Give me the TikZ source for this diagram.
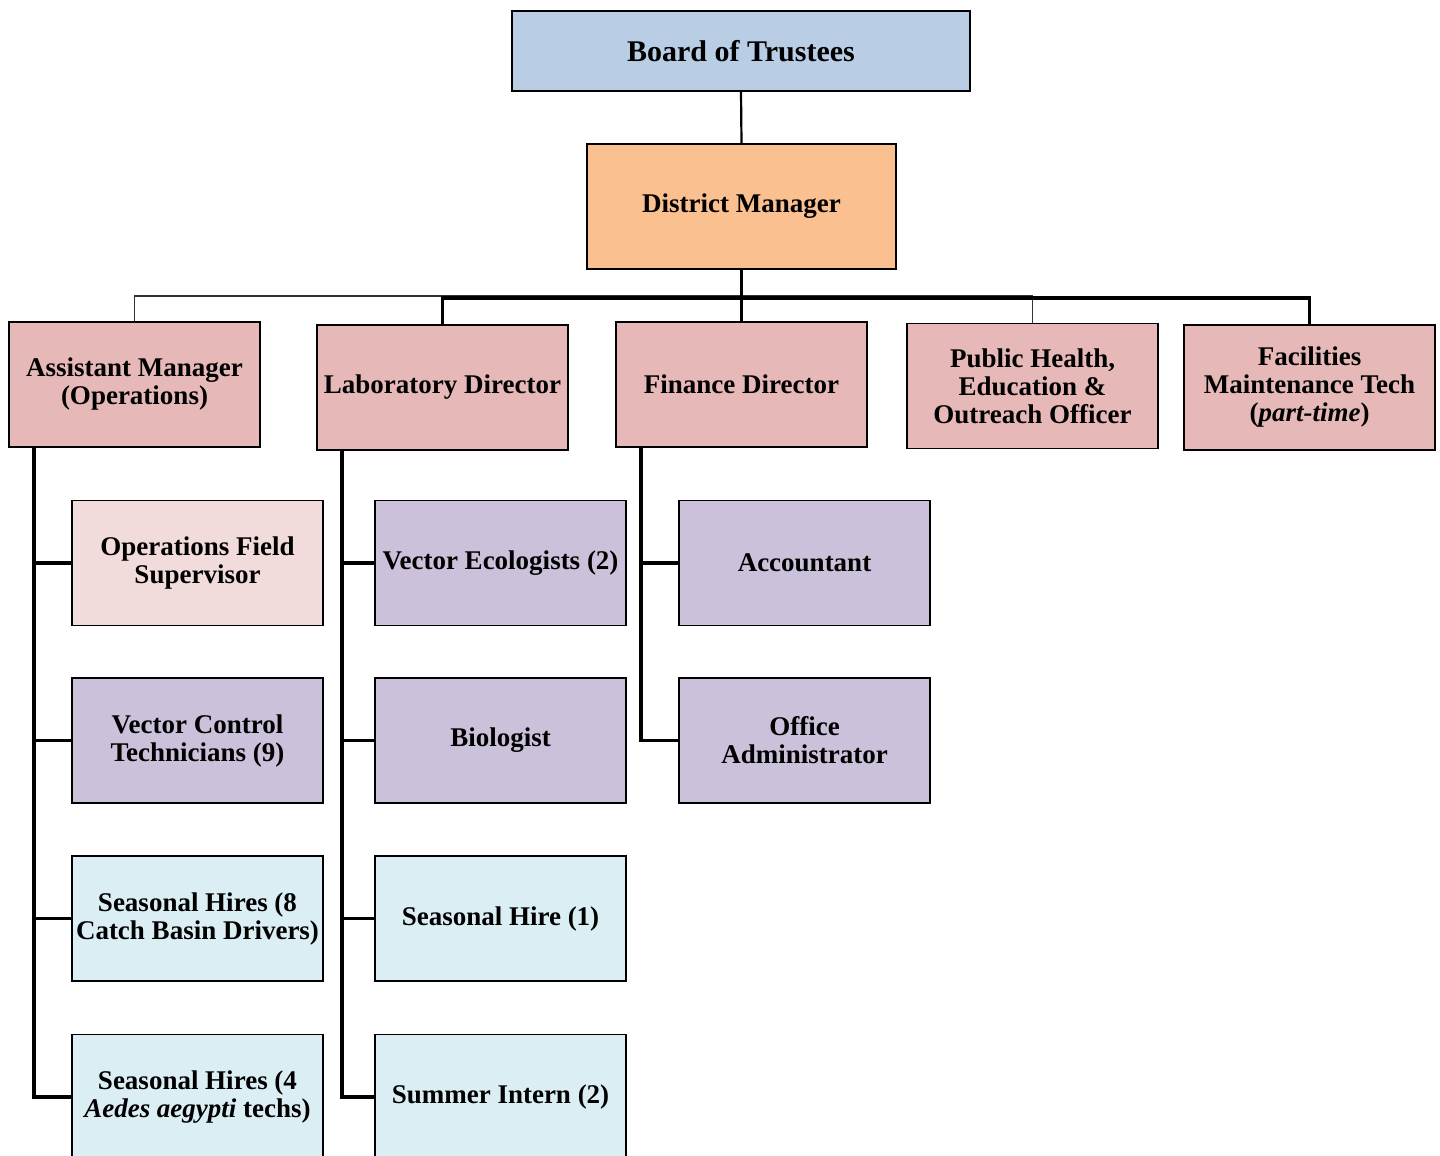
\documentclass[tikz,border=0pt]{standalone}
\usepackage{fontspec}
\setmainfont{Liberation Serif}
\definecolor{cboard}{HTML}{B9CDE5}
\definecolor{cdm}{HTML}{FAC090}
\definecolor{cpink}{HTML}{E6B9B8}
\definecolor{clpink}{HTML}{F2DCDB}
\definecolor{cpurple}{HTML}{CCC1DA}
\definecolor{cblue}{HTML}{DBEEF4}
\begin{document}
\begin{tikzpicture}[x=0.5pt,y=-0.5pt,
  box/.style={draw=black, line width=0.9pt, inner sep=0pt, minimum width=125.5pt, minimum height=62.5pt,
    align=center, font=\fontsize{13.5}{14}\selectfont\bfseries},
  thickl/.style={line width=1.6pt, draw=black},
  thinl/.style={line width=0.6pt, draw=black!80}]
\clip (0,0) rectangle (1440,1156);
\fill[white] (0,0) rectangle (1440,1156);
% top
\node[box, fill=cboard, minimum width=229pt, minimum height=40pt, font=\fontsize{15}{16}\selectfont\bfseries] (board) at (741,51) {Board of Trustees};
\node[box, fill=cdm, minimum width=154.5pt] (dm) at (741.5,206.5) {District Manager};
% second row
\node[box, fill=cpink] (am) at (134.5,384.5) {Assistant Manager\\(Operations)};
\node[box, fill=cpink] (lab) at (442.5,387.5) {Laboratory Director};
\node[box, fill=cpink] (fin) at (741.5,384.5) {Finance Director};
\node[box, fill=cpink] (ph) at (1032.5,386) {Public Health,\\Education \&\\Outreach Officer};
\node[box, fill=cpink] (fac) at (1309.5,387.5) {Facilities\\Maintenance Tech\\(\textit{part-time})};
% column 1
\node[box, fill=clpink] (ofs) at (197.5,563) {Operations Field\\Supervisor};
\node[box, fill=cpurple] (vct) at (197.5,740.5) {Vector Control\\Technicians (9)};
\node[box, fill=cblue] (sh8) at (197.5,918.5) {Seasonal Hires (8\\Catch Basin Drivers)};
\node[box, fill=cblue] (sh4) at (197.5,1097) {Seasonal Hires (4\\\textit{Aedes aegypti} techs)};
% column 2
\node[box, fill=cpurple] (ve) at (500.5,563) {Vector Ecologists (2)};
\node[box, fill=cpurple] (bio) at (500.5,740.5) {Biologist};
\node[box, fill=cblue] (sh1) at (500.5,918.5) {Seasonal Hire (1)};
\node[box, fill=cblue] (si) at (500.5,1097) {Summer Intern (2)};
% column 3
\node[box, fill=cpurple] (acc) at (804.5,563) {Accountant};
\node[box, fill=cpurple] (oa) at (804.5,740.5) {Office\\Administrator};
% helper coordinates
\coordinate (tb) at (741,296);
\coordinate (tk) at (741,298);
\coordinate (amv) at (34,0);
\coordinate (labv) at (342,0);
\coordinate (finv) at (641,0);
% connectors
\draw[line width=1.1pt] (board.south) -- (dm.north);
\draw[thinl] (am.north) |- (tb) -| (ph.north);
\draw[thickl] (lab.north) |- (tk) -| (fac.north);
\draw[thickl] (dm.south) -- (fin.north);
\draw[thickl] (am.south -| amv) |- (sh4.west);
\draw[thickl] (ofs.west) -- (ofs.west -| amv);
\draw[thickl] (vct.west) -- (vct.west -| amv);
\draw[thickl] (sh8.west) -- (sh8.west -| amv);
\draw[thickl] (lab.south -| labv) |- (si.west);
\draw[thickl] (ve.west) -- (ve.west -| labv);
\draw[thickl] (bio.west) -- (bio.west -| labv);
\draw[thickl] (sh1.west) -- (sh1.west -| labv);
\draw[thickl] (fin.south -| finv) |- (oa.west);
\draw[thickl] (acc.west) -- (acc.west -| finv);
\end{tikzpicture}
\end{document}
